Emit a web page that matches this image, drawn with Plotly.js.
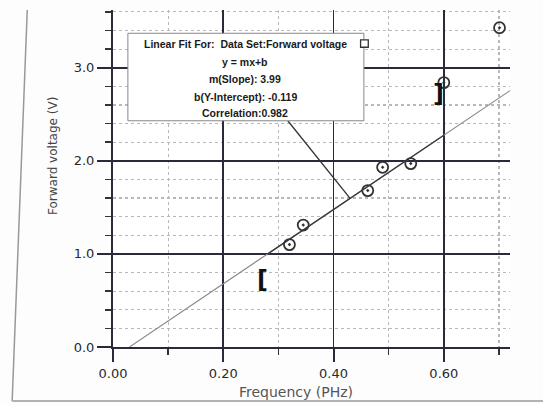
<!DOCTYPE html>
<html><head><meta charset="utf-8">
<script src="https://cdn.plot.ly/plotly-3.0.1.min.js"></script>
<style>body{margin:0;background:#fff}#c{width:543px;height:405px}</style>
</head><body><div id="c"></div>
<script>
const frequency = [0.32, 0.345, 0.462, 0.489, 0.54, 0.60, 0.701];
const voltage = [1.10, 1.31, 1.68, 1.93, 1.97, 2.84, 3.43];
const slope = 3.99, intercept = -0.119;
const fitX = [0.03, 0.72];
const fitRangeX = [0.28, 0.60];
const xTicks = [0, 0.2, 0.4, 0.6];
const xTickLabels = ["0.00", "0.20", "0.40", "0.60"];
const yTicks = [0, 1, 2, 3];
const yTickLabels = ["0.0", "1.0", "2.0", "3.0"];
const fitText = ["Linear Fit For:  Data Set:Forward voltage", "y = mx+b", "m(Slope): 3.99", "b(Y-Intercept): -0.119", "Correlation:0.982"];

const line = xs => xs.map(x => slope * x + intercept);

const traces = [
  {x: fitX, y: line(fitX), mode: 'lines', line: {color: '#8a8a8a', width: 1.2}, hoverinfo: 'skip'},
  {x: fitRangeX, y: line(fitRangeX), mode: 'lines', line: {color: '#3a3a3a', width: 1.4}, hoverinfo: 'skip'},
  {x: frequency, y: voltage, mode: 'markers',
   marker: {symbol: 'circle-open-dot', size: 11, color: '#333', line: {width: 1.8, color: '#333'}}}
];

const boxFont = {size: 10.5, color: '#1a1a1a', family: 'Liberation Sans, Arial, sans-serif', weight: 'bold'};
const tickFont = {size: 13, color: '#2a2a2a', family: 'DejaVu Sans, sans-serif'};

const layout = {
  width: 543, height: 405,
  margin: {l: 113, r: 33, t: 10, b: 58},
  paper_bgcolor: '#fdfdfd', plot_bgcolor: '#fff',
  showlegend: false,
  font: {family: 'DejaVu Sans, sans-serif', color: '#333'},
  xaxis: {
    range: [0, 0.72], tickvals: xTicks, ticktext: xTickLabels,
    ticks: 'outside', ticklen: 13, tickwidth: 2, tickcolor: '#2a2a3a',
    showline: true, linecolor: '#2a2a3a', linewidth: 2,
    gridcolor: '#2a2a3a', gridwidth: 1.6, zeroline: false,
    tickfont: tickFont,
    minor: {dtick: 0.1, tick0: 0, ticks: 'outside', ticklen: 6, tickcolor: '#333', tickwidth: 1.5, showgrid: true, gridcolor: '#b8b8b8', griddash: 'dot', gridwidth: 1.2}
  },
  yaxis: {
    range: [0, 3.62], tickvals: yTicks, ticktext: yTickLabels,
    ticks: 'outside', ticklen: 14, tickwidth: 2, tickcolor: '#2a2a3a',
    showline: true, linecolor: '#2a2a3a', linewidth: 2,
    gridcolor: '#2a2a3a', gridwidth: 1.6, zeroline: false,
    tickfont: tickFont,
    minor: {dtick: 0.2, tick0: 0, ticks: 'outside', ticklen: 6, tickcolor: '#333', tickwidth: 1.5, showgrid: true, gridcolor: '#b8b8b8', griddash: 'dot', gridwidth: 1.2}
  },
  shapes: [
    {type: 'line', xref: 'paper', yref: 'paper', x0: -0.216, y0: 1.0, x1: -0.254, y1: -0.16, line: {color: '#999', width: 1.5}},
    {type: 'line', xref: 'paper', yref: 'paper', x0: -0.254, y0: -0.16, x1: 1.09, y1: -0.16, line: {color: '#999', width: 1.5}},
    {type: 'line', xref: 'x', yref: 'y', x0: 0.317, y0: 2.43, x1: 0.43, y1: line([0.43])[0], line: {color: '#333', width: 1.3}},
    {type: 'rect', xref: 'x', yref: 'y', x0: 0.027, x1: 0.455, y0: 2.43, y1: 3.37, fillcolor: '#fff', line: {color: '#888', width: 1}},
    {type: 'rect', xref: 'x', yref: 'y', x0: 0.449, x1: 0.463, y0: 3.22, y1: 3.30, fillcolor: '#fff', line: {color: '#333', width: 1.3}}
  ],
  annotations: [
    {xref: 'x', yref: 'y', x: 0.24, y: 3.26, text: fitText[0], showarrow: false, font: boxFont},
    {xref: 'x', yref: 'y', x: 0.24, y: 3.06, text: fitText[1], showarrow: false, font: boxFont},
    {xref: 'x', yref: 'y', x: 0.24, y: 2.88, text: fitText[2], showarrow: false, font: boxFont},
    {xref: 'x', yref: 'y', x: 0.24, y: 2.69, text: fitText[3], showarrow: false, font: boxFont},
    {xref: 'x', yref: 'y', x: 0.24, y: 2.51, text: fitText[4], showarrow: false, font: boxFont},
    {xref: 'x', yref: 'y', x: fitRangeX[0] - 0.009, y: 0.72, text: '[', showarrow: false, font: {size: 24, color: '#111', family: 'DejaVu Sans', weight: 'bold'}},
    {xref: 'x', yref: 'y', x: fitRangeX[1] - 0.01, y: 2.72, text: ']', showarrow: false, font: {size: 24, color: '#111', family: 'DejaVu Sans', weight: 'bold'}},
    {xref: 'paper', yref: 'paper', x: 0.46, y: -0.133, yanchor: 'middle', text: 'Frequency (PHz)', showarrow: false, font: {size: 14, color: '#555'}},
    {xref: 'paper', yref: 'paper', x: -0.151, y: 0.567, xanchor: 'center', text: 'Forward voltage (V)', textangle: -90, showarrow: false, font: {size: 12, color: '#444'}}
  ]
};

Plotly.newPlot('c', traces, layout, {displayModeBar: false, staticPlot: true});
</script></body></html>
